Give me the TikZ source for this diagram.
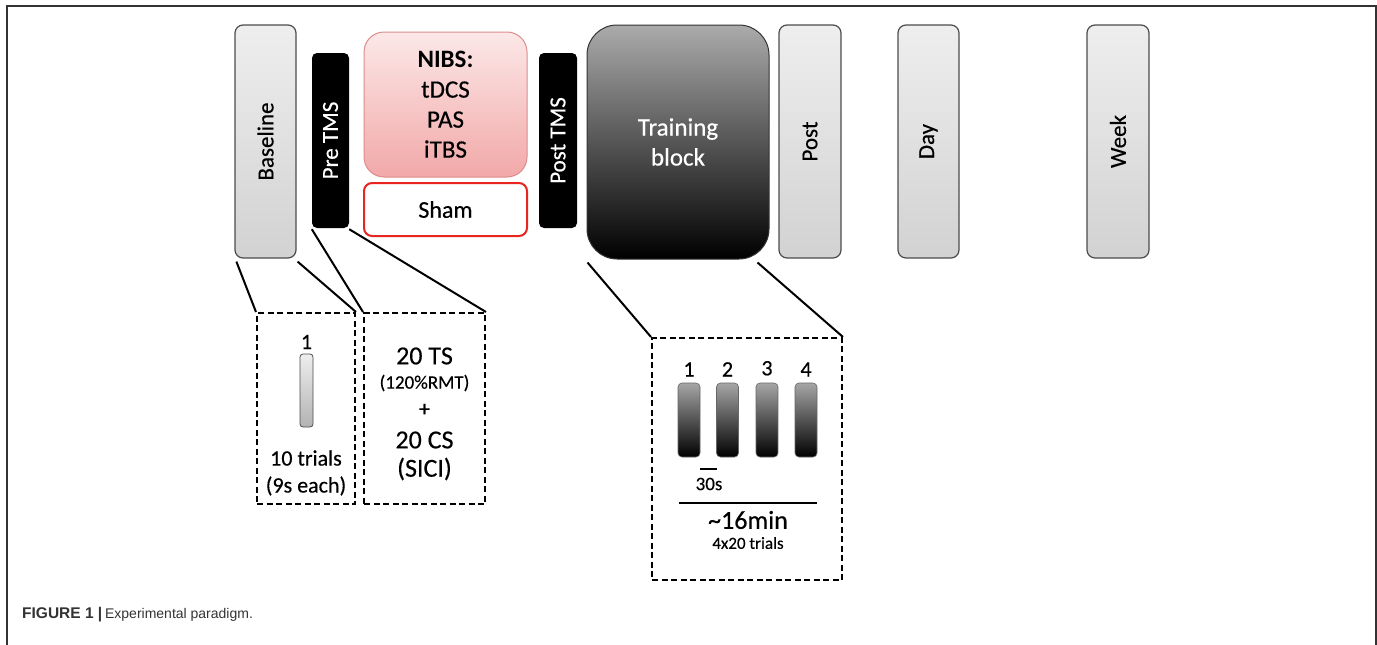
\documentclass[tikz,border=0pt]{standalone}
\usepackage{fontspec}
\usetikzlibrary{positioning}
\setmainfont{Carlito}[UprightFeatures={FakeBold=0.4}]
\newfontfamily\capfont{Liberation Sans}
\definecolor{pinktop}{RGB}{252,232,232}
\definecolor{pinkbot}{RGB}{242,168,168}
\definecolor{pinkedge}{RGB}{220,140,140}
\definecolor{shamred}{RGB}{232,37,30}
\definecolor{framegray}{RGB}{51,51,51}
\definecolor{boxtop}{RGB}{238,238,238}
\definecolor{boxbot}{RGB}{210,210,210}
\begin{document}
\begin{tikzpicture}[x=1pt,y=-1pt,
  gbox/.style={draw=black!70, line width=1.2pt, rounded corners=8pt, top color=boxtop, bottom color=boxbot, inner sep=0pt, font=\fontsize{23}{27}\selectfont},
  tms/.style={fill=black, rounded corners=5pt, inner sep=0pt, text=white, font=\fontsize{23}{27}\selectfont},
  zoombox/.style={draw, line width=2pt, dash pattern=on 6pt off 3.5pt, inner sep=0pt},
  link/.style={line width=2pt},
  bar/.style={line width=2pt},
  dbar/.style={draw=black!60, line width=0.6pt, rounded corners=4pt, top color=black!35, bottom color=black, inner sep=0pt, minimum width=22pt, minimum height=74pt},
  lbl/.style={inner sep=0pt, font=\fontsize{22}{26}\selectfont},
  big/.style={inner sep=0pt, font=\fontsize{26}{30}\selectfont},
  small/.style={inner sep=0pt, font=\fontsize{19}{22}\selectfont}
]
\useasboundingbox (0,0) rectangle (1377,645);
% frame
\draw[framegray, line width=1.5pt] (7,645) -- (7,6) -- (1376,6) -- (1376,645);
% top row
\node[gbox, minimum width=61pt, minimum height=233pt] (base) at (265.5,141.5) {\rotatebox{90}{Baseline}};
\node[tms, minimum width=37pt, minimum height=175pt] (pre) at (330.5,140.5) {\rotatebox{90}{Pre TMS}};
\node[draw=pinkedge, line width=1pt, rounded corners=20pt, top color=pinktop, bottom color=pinkbot, inner sep=0pt, minimum width=163pt, minimum height=145pt, align=center, font=\fontsize{25}{30}\selectfont] (nibs) at (445.5,104.5) {\textbf{NIBS:}\\tDCS\\PAS\\iTBS};
\node[draw=shamred, line width=2pt, rounded corners=8pt, fill=white, inner sep=0pt, minimum width=163pt, minimum height=53pt, font=\fontsize{24}{28}\selectfont] (sham) at (445.5,209.5) {Sham};
\node[tms, minimum width=38pt, minimum height=175pt] (post tms) at (558,140.5) {\rotatebox{90}{Post TMS}};
\node[draw=black!80, line width=1pt, rounded corners=30pt, top color=black!33, middle color=black!66, bottom color=black, inner sep=0pt, minimum width=182pt, minimum height=234pt, text=white, align=center, font=\fontsize{25}{30}\selectfont] (train) at (678,142) {Training\\block};
\node[gbox, minimum width=62pt, minimum height=233pt] (post) at (810,141.5) {\rotatebox{90}{Post}};
\node[gbox, minimum width=61pt, minimum height=233pt] (day) at (928.5,141.5) {\rotatebox{90}{Day}};
\node[gbox, minimum width=62pt, minimum height=233pt] (week) at (1118,141.5) {\rotatebox{90}{Week}};
% zoom boxes
\node[zoombox, minimum width=98pt, minimum height=191pt] (z1) at (306,408.5) {};
\node[zoombox, minimum width=121pt, minimum height=191pt] (z2) at (424.5,408.5) {};
\node[zoombox, minimum width=190pt, minimum height=242pt] (z3) at (747,459) {};
% links
\draw[link] ([xshift=2pt,yshift=-3pt]base.south west) -- (z1.north west);
\draw[link] ([xshift=1pt,yshift=-3pt]base.south east) -- (z1.north east);
\draw[link] ([yshift=-1pt]pre.south west) -- (z2.north west);
\draw[link] ([yshift=-1pt]pre.south east) -- (z2.north east);
\draw[link] ([xshift=1pt,yshift=-3pt]train.south west) -- (z3.north west);
\draw[link] ([xshift=-12pt,yshift=-3pt]train.south east) -- (z3.north east);
% box 1 content
\node[lbl] (n1) at (306.5,342) {1};
\node[draw=black!70, line width=0.8pt, rounded corners=3pt, top color=boxtop, bottom color=black!30, inner sep=0pt, minimum width=13pt, minimum height=73pt] (trial) at (306.5,390.5) {};
\node[lbl] (ten) at (306,458) {10 trials};
\node[lbl] (each) at (306,486) {(9s each)};
% box 2 content
\node[big] (ts) at (424.5,356) {20 TS};
\node[small] (rmt) at (424.5,383) {(120\%RMT)};
\node[lbl] (plus) at (424.5,410) {+};
\node[big] (cs) at (424.5,440) {20 CS};
\node[big] (sici) at (424.5,469) {(SICI)};
% box 3 content
\node[dbar] (b1) at (689,420) {};
\node[dbar] (b2) at (727.5,420) {};
\node[dbar] (b3) at (767,420) {};
\node[dbar] (b4) at (806,420) {};
\node[lbl, above=6pt of b1.north] (l1) {1};
\node[lbl, above=6pt of b2.north] (l2) {2};
\node[lbl, above=7pt of b3.north] (l3) {3};
\node[lbl, above=6pt of b4.north] (l4) {4};
\coordinate (s30a) at (700,469);
\coordinate (s30b) at (717,469);
\draw[bar] (s30a) -- (s30b);
\node[small] (t30) at (709,484) {30s};
\coordinate (s16a) at (679,503);
\coordinate (s16b) at (817,503);
\draw[bar] (s16a) -- (s16b);
\node[big] (t16) at (748,520) {\char`~16min};
\node[inner sep=0pt, font=\fontsize{17}{20}\selectfont] (t4x) at (748,543) {4x20 trials};
% caption
\node[anchor=base west, inner sep=0pt, text=framegray, font=\capfont] (cap) at (22,618) {{\fontsize{15.5}{19}\selectfont\textbf{FIGURE 1 |}} {\fontsize{14}{18}\selectfont Experimental paradigm.}};
\end{tikzpicture}
\end{document}
